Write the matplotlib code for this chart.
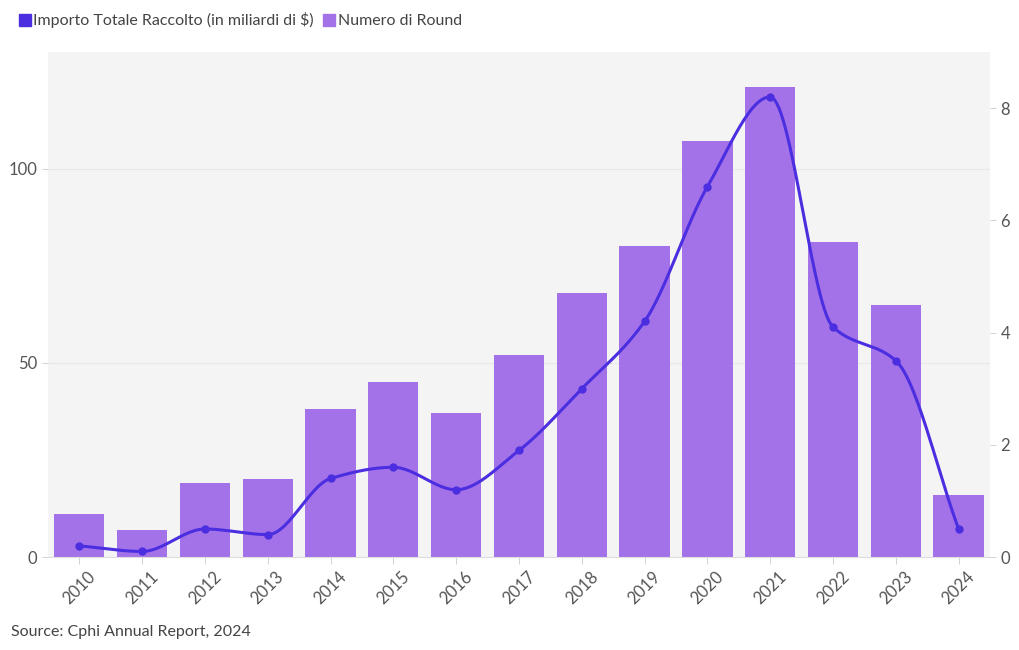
import matplotlib
matplotlib.use("Agg")
from matplotlib import pyplot as plt
from matplotlib.lines import Line2D
import numpy as np

plt.rcParams['font.family'] = ['Lato', 'DejaVu Sans']

years = ['2010', '2011', '2012', '2013', '2014', '2015', '2016', '2017',
         '2018', '2019', '2020', '2021', '2022', '2023', '2024']
rounds = [11, 7, 19, 20, 38, 45, 37, 52, 68, 80, 107, 121, 81, 65, 16]
amount = [0.2, 0.1, 0.5, 0.4, 1.4, 1.6, 1.2, 1.9, 3.0, 4.2, 6.6, 8.2, 4.1, 3.5, 0.5]

BAR_COLOR = '#a472e8'
LINE_COLOR = '#4a2ee0'
TEXT_COLOR = '#555555'


def monotone_curve(x, y, n=30):
    """Monotone cubic (Fritsch-Carlson) curve through the points, for drawing."""
    x = np.asarray(x, float)
    y = np.asarray(y, float)
    h = np.diff(x)
    d = np.diff(y) / h
    m = np.zeros_like(y)
    m[0], m[-1] = d[0], d[-1]
    for i in range(1, len(y) - 1):
        if d[i - 1] * d[i] <= 0:
            m[i] = 0
        else:
            m[i] = 3 * (h[i - 1] + h[i]) / ((2 * h[i] + h[i - 1]) / d[i - 1] + (h[i] + 2 * h[i - 1]) / d[i])
    xs, ys = [], []
    for i in range(len(x) - 1):
        t = np.linspace(0, 1, n)
        h00 = 2 * t**3 - 3 * t**2 + 1
        h10 = t**3 - 2 * t**2 + t
        h01 = -2 * t**3 + 3 * t**2
        h11 = t**3 - t**2
        xs.append(x[i] + t * h[i])
        ys.append(h00 * y[i] + h10 * h[i] * m[i] + h01 * y[i + 1] + h11 * h[i] * m[i + 1])
    return np.concatenate(xs), np.concatenate(ys)


fig = plt.figure(figsize=(10.2, 6.5), dpi=100)
ax = fig.add_axes([0.047, 0.143, 0.9236, 0.777])
ax2 = ax.twinx()

pos = np.arange(len(years))
ax.bar(pos, rounds, width=0.8, color=BAR_COLOR, zorder=2)
ax.set_ylim(0, 130)
ax.set_xlim(-0.5, len(years) - 0.5)
ax.set_facecolor('#f4f4f4')
ax.set_yticks([0, 50, 100])
ax.grid(axis='y', color='#e8e8e8', linewidth=0.8, zorder=0)
ax.set_axisbelow(True)
ax.set_xticks(pos)
ax.set_xticklabels(years, rotation=45, ha='center', va='top')

cx, cy = monotone_curve(pos, amount)
ax2.plot(cx, cy, color=LINE_COLOR, linewidth=2.2, zorder=3)
ax2.plot(pos, amount, 'o', color=LINE_COLOR, markersize=5, zorder=4)
ax2.set_ylim(0, 9)
ax2.set_yticks([0, 2, 4, 6, 8])

for a in (ax, ax2):
    for s in a.spines.values():
        s.set_visible(False)
    a.tick_params(colors=TEXT_COLOR, labelsize=12, length=4, width=0.6)
    a.tick_params(axis='y', color='#cccccc')
ax.tick_params(axis='x', color='#cccccc', length=5, labelsize=12)
ax.spines['bottom'].set_visible(True)
ax.spines['bottom'].set_color('#dddddd')

handles = [
    Line2D([], [], marker='s', linestyle='none', markersize=9, color=LINE_COLOR),
    Line2D([], [], marker='s', linestyle='none', markersize=9, color=BAR_COLOR),
]
fig.legend(handles, ['Importo Totale Raccolto (in miliardi di $)', 'Numero di Round'],
           loc='upper left', bbox_to_anchor=(0.003, 1.003), ncol=2, frameon=False,
           handletextpad=0.1, columnspacing=0.5, fontsize=11.5, labelcolor='#444444',
           handlelength=0.9)

fig.text(0.011, 0.022, 'Source: Cphi Annual Report, 2024', fontsize=11.5, color='#444444')

fig.savefig('out.png', dpi=100, facecolor='white')
